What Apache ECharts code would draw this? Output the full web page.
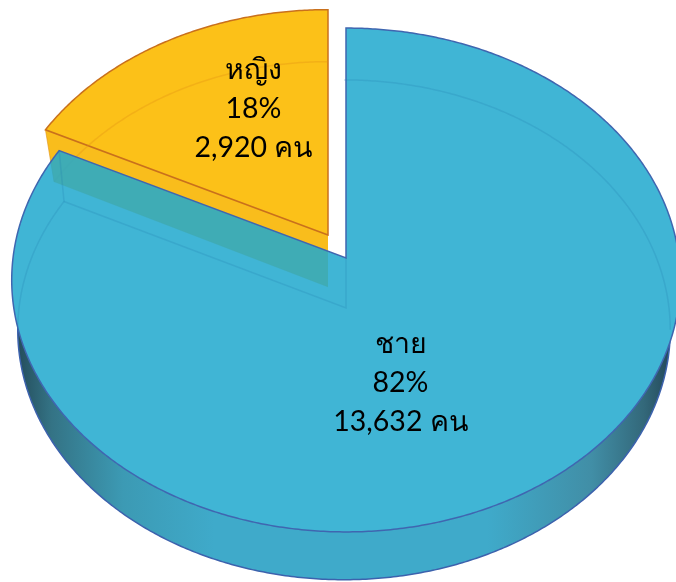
<!DOCTYPE html>
<html>
<head>
<meta charset="utf-8">
<title>pie</title>
<style>
    html, body { margin: 0; padding: 0; background: #fff; }
    #chartmain { width: 676px; height: 582px; }
</style>
<script src="https://cdn.jsdelivr.net/npm/echarts@6/dist/echarts.min.js"></script>
</head>
<body>
<div id="chartmain"></div>
<script>
var categories = ['ชาย', 'หญิง'];
var people = [13632, 2920];
var unit = 'คน';

var total = people[0] + people[1];
var sweep = 360 * people[0] / total; // blue slice runs clockwise from 12 o'clock

// perspective ellipse, top is further away than the bottom
var TILT = 0.0873;
var faces = {
    maleTop: {x: 346, y: 258, rx: 333, ry: 250},
    maleBase: {x: 344, y: 308, rx: 325, ry: 248, apexX: 346},
    femaleTop: {x: 328, y: 235, rx: 328, ry: 245},
    femaleBase: {x: 328, y: 287, rx: 318, ry: 245}
};

function project(face, deg) {
    var a = deg * Math.PI / 180;
    var w = 1 + TILT * Math.cos(a);
    return [face.x + face.rx * Math.sin(a) / w, face.y - face.ry * Math.cos(a) / w];
}

function arc(face, from, to) {
    var pts = [];
    var n = Math.ceil(Math.abs(to - from) * 2);
    for (var i = 0; i <= n; i++) {
        pts.push(project(face, from + (to - from) * i / n));
    }
    return pts;
}

function apex(face) {
    return [face.apexX || face.x, face.y];
}

function slice(face, from, to) {
    return [apex(face)].concat(arc(face, from, to));
}

function poly(pts, style) {
    return {type: 'polygon', shape: {points: pts}, style: style};
}

function line(pts, style) {
    return {type: 'polyline', shape: {points: pts}, style: style};
}

function label(i, x, y) {
    return {
        type: 'text',
        style: {
            text: categories[i] + '\n' + Math.round(100 * people[i] / total) + '%\n' + people[i].toLocaleString('en-US') + ' ' + unit,
            x: x, y: y,
            align: 'center', verticalAlign: 'middle',
            font: '28.5px Lato, "Noto Sans", sans-serif',
            lineHeight: 39,
            fill: '#000'
        }
    };
}

// side of the blue slice and white under its top face
function renderBack() {
    var wall = new echarts.graphic.LinearGradient(19, 0, 670, 0, [
        {offset: 0, color: '#254f5e'},
        {offset: 0.05, color: '#347385'},
        {offset: 0.16, color: '#3c9ab4'},
        {offset: 0.3, color: '#3faaca'},
        {offset: 0.72, color: '#3faaca'},
        {offset: 0.88, color: '#418ea6'},
        {offset: 0.96, color: '#33687a'},
        {offset: 1, color: '#24495a'}
    ], true);
    return {
        type: 'group',
        children: [
            poly(arc(faces.maleBase, 80, 280), {fill: wall, stroke: '#3c62ad', lineWidth: 1.5}),
            poly(slice(faces.maleTop, 0, sweep), {fill: '#ffffff'})
        ]
    };
}

function renderFemale() {
    var top = faces.femaleTop, base = faces.femaleBase;
    var tipTop = project(top, sweep), tipBase = project(base, sweep);
    var edge = '#c9701c';
    return {
        type: 'group',
        children: [
            poly([tipTop, apex(top), apex(base), tipBase], {fill: '#f9bd1c'}),
            poly(slice(top, sweep, 360), {fill: '#fcc118', stroke: edge, lineWidth: 1.5}),
            line(arc(base, sweep, 360), {fill: null, stroke: 'rgba(225,145,20,0.35)', lineWidth: 1.5}),
            line([tipBase, tipTop], {fill: null, stroke: 'rgba(225,145,20,0.6)', lineWidth: 1}),
            line([apex(base), tipBase], {fill: null, stroke: 'rgba(225,145,20,0.25)', lineWidth: 1}),
            label(1, 253.5, 109)
        ]
    };
}

function renderMale() {
    var top = faces.maleTop, base = faces.maleBase;
    var softLine = {fill: null, stroke: 'rgba(30,125,175,0.22)', lineWidth: 1.5};
    return {
        type: 'group',
        children: [
            poly(slice(top, 0, sweep), {fill: 'rgba(33,169,206,0.86)', stroke: '#3f66b0', lineWidth: 1.5}),
            line(arc(base, 0, 95), softLine),
            line(arc(base, 265, sweep), softLine),
            line([project(base, sweep), apex(base), apex(top)], softLine),
            line([project(top, sweep), project(base, sweep)], softLine),
            label(0, 400.5, 383)
        ]
    };
}

var myChart = echarts.init(document.getElementById('chartmain'));
myChart.setOption({
    animation: false,
    backgroundColor: '#fff',
    tooltip: {show: false},
    series: [
        {type: 'custom', coordinateSystem: 'none', data: [people[0]], renderItem: renderBack, silent: true},
        {type: 'custom', coordinateSystem: 'none', data: [people[1]], renderItem: renderFemale, silent: true},
        {type: 'custom', coordinateSystem: 'none', data: [people[0]], renderItem: renderMale, silent: true}
    ]
});
</script>
</body>
</html>
